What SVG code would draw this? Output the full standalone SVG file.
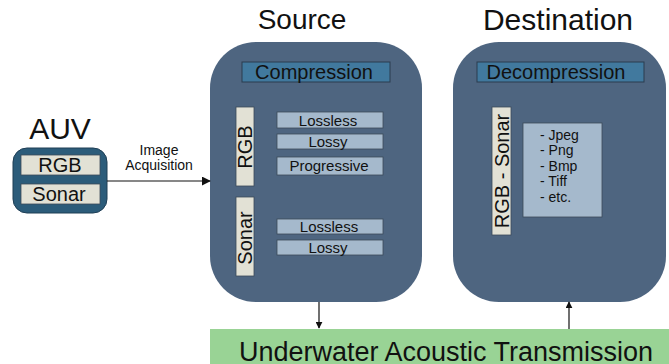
<svg xmlns="http://www.w3.org/2000/svg" width="669" height="364" viewBox="0 0 669 364">
<defs>
<style>
text{font-family:"Liberation Sans",Arial,sans-serif;fill:#111}
.big{fill:#4e6580}
.hdr{fill:#41799e;stroke:#2a3c4e;stroke-width:1}
.beige{fill:#e2e1d5;stroke:#3c4a58;stroke-width:0.8}
.item{fill:#a5b9cc;stroke:#3c4a58;stroke-width:0.8}
.conn{stroke:#111;stroke-width:1.2;fill:none}
</style>
<marker id="ah" viewBox="0 0 10 10" refX="9" refY="5" markerWidth="7" markerHeight="7" orient="auto" markerUnits="userSpaceOnUse">
<path d="M0,0 L10,5 L0,10 z" fill="#111"/>
</marker>
<marker id="ahb" viewBox="0 0 10 10" refX="9" refY="5" markerWidth="9" markerHeight="9" orient="auto" markerUnits="userSpaceOnUse">
<path d="M0,0 L10,5 L0,10 z" fill="#111"/>
</marker>
</defs>
<rect width="669" height="364" fill="#fff"/>

<g id="auv">
<text x="60" y="139" font-size="30" text-anchor="middle">AUV</text>
<rect x="13" y="148" width="94" height="65" rx="14" fill="#2c5c7a" stroke="#1f3e55" stroke-width="1"/>
<rect x="21" y="155" width="79" height="20" class="beige"/>
<text x="60" y="172" font-size="20" text-anchor="middle">RGB</text>
<rect x="21" y="184" width="79" height="20" class="beige"/>
<text x="59" y="201" font-size="20" text-anchor="middle">Sonar</text>
</g>

<g id="source">
<text x="302" y="29" font-size="28" text-anchor="middle">Source</text>
<rect x="210" y="42" width="212" height="260" rx="46" class="big"/>
<rect x="242" y="62" width="148" height="20" class="hdr"/>
<text x="314" y="79" font-size="20" text-anchor="middle">Compression</text>
<rect x="236" y="107" width="18" height="79" class="beige"/>
<text transform="translate(252,147) rotate(-90)" font-size="20" text-anchor="middle">RGB</text>
<rect x="236" y="197" width="18" height="79" class="beige"/>
<text transform="translate(252,238) rotate(-90)" font-size="20" text-anchor="middle">Sonar</text>
<rect x="277" y="112" width="106" height="16" class="item"/>
<text x="328" y="126" font-size="15" text-anchor="middle">Lossless</text>
<rect x="277" y="134" width="106" height="15" class="item"/>
<text x="328" y="147" font-size="15" text-anchor="middle">Lossy</text>
<rect x="277" y="157" width="106" height="18" class="item"/>
<text x="329" y="171" font-size="15" text-anchor="middle">Progressive</text>
<rect x="277" y="219" width="106" height="15" class="item"/>
<text x="329" y="232" font-size="15" text-anchor="middle">Lossless</text>
<rect x="277" y="240" width="106" height="15" class="item"/>
<text x="328" y="253" font-size="15" text-anchor="middle">Lossy</text>
</g>

<g id="destination">
<text x="558" y="30" font-size="30" text-anchor="middle">Destination</text>
<rect x="453" y="42" width="213" height="260" rx="46" class="big"/>
<rect x="477" y="62" width="167" height="20" class="hdr"/>
<text x="556" y="79" font-size="20" text-anchor="middle">Decompression</text>
<rect x="492" y="107" width="19" height="128" class="beige"/>
<text transform="translate(509,171) rotate(-90)" font-size="20" text-anchor="middle">RGB - Sonar</text>
<rect x="523" y="123" width="79" height="94" class="item"/>
<text font-size="14">
<tspan x="540" y="140">- Jpeg</tspan>
<tspan x="540" y="155.4">- Png</tspan>
<tspan x="540" y="170.8">- Bmp</tspan>
<tspan x="540" y="186.2">- Tiff</tspan>
<tspan x="540" y="201.6">- etc.</tspan>
</text>
</g>

<g id="transmission">
<rect x="210" y="329" width="459" height="35" fill="#99d395"/>
<text x="446" y="361" font-size="27" text-anchor="middle">Underwater Acoustic Transmission</text>
</g>

<g id="connectors">
<line x1="107" y1="181" x2="210" y2="181" class="conn" marker-end="url(#ahb)"/>
<text x="159" y="155" font-size="14" text-anchor="middle">Image</text>
<text x="159" y="170" font-size="14" text-anchor="middle">Acquisition</text>
<line x1="319" y1="302" x2="319" y2="328" class="conn" marker-end="url(#ah)"/>
<line x1="569" y1="329" x2="569" y2="302" class="conn" marker-end="url(#ah)"/>
</g>
</svg>
